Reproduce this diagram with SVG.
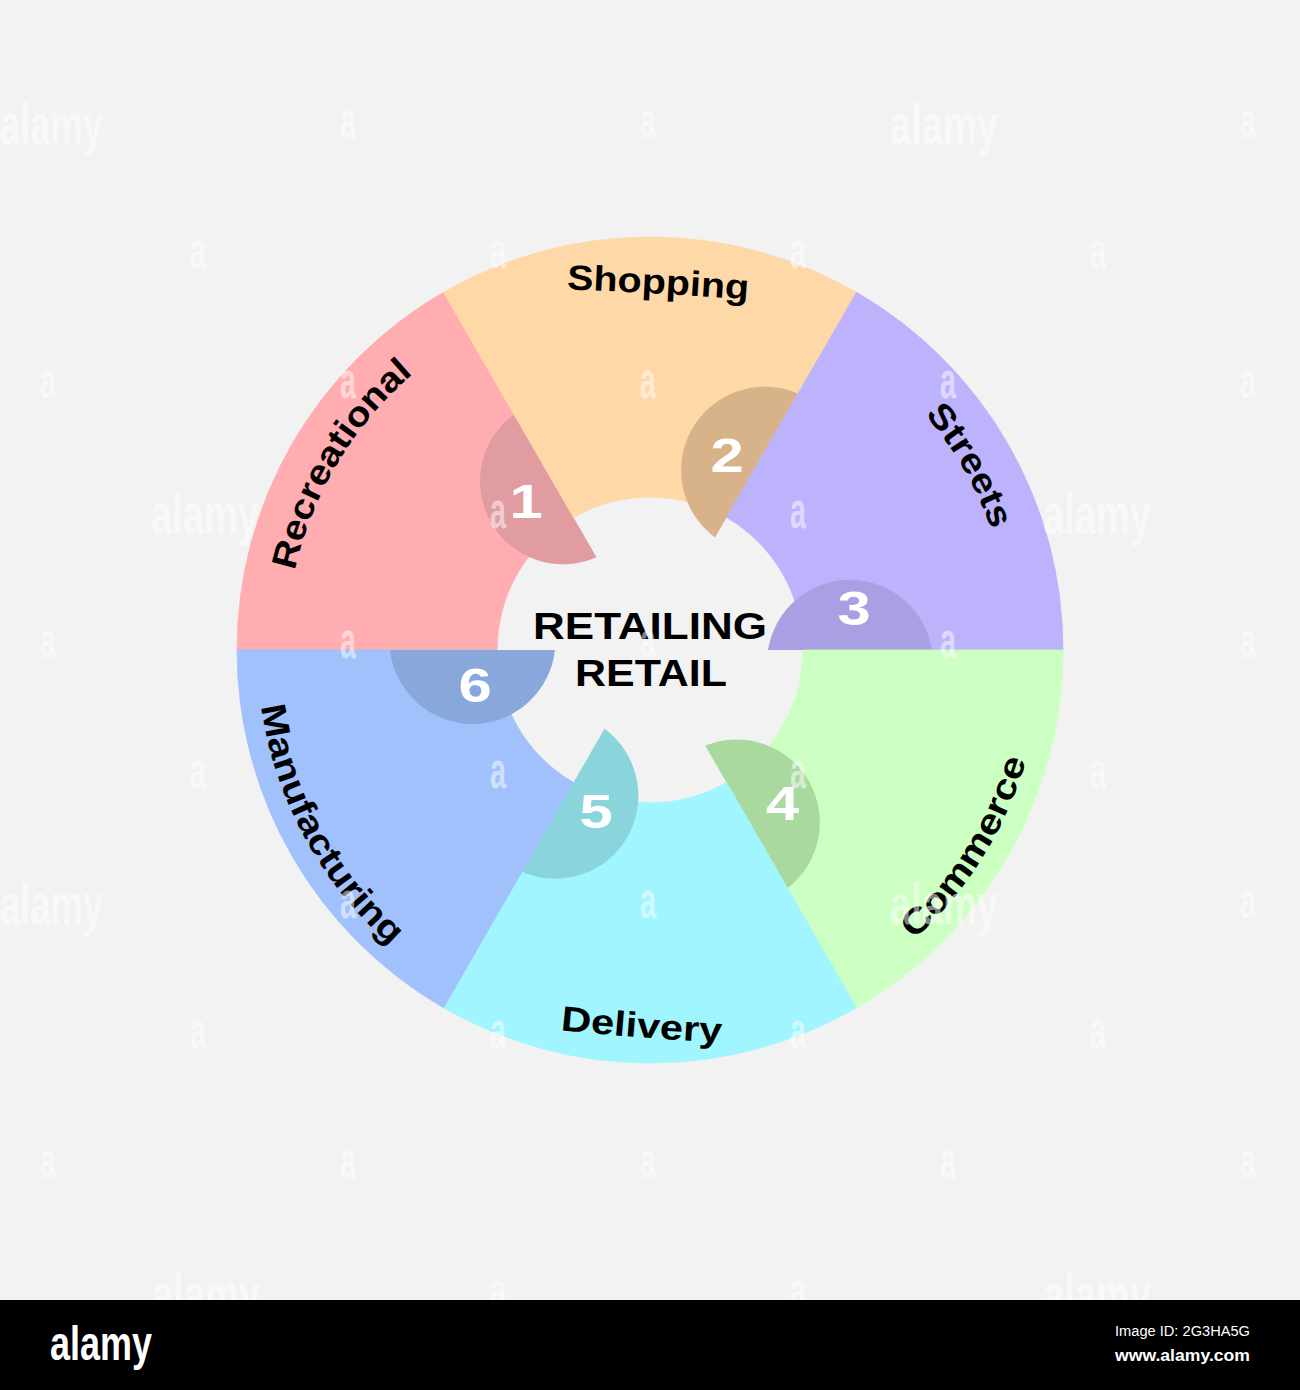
<svg xmlns="http://www.w3.org/2000/svg" width="1300" height="1390" viewBox="0 0 1300 1390">
<defs>
<style>
.lbl{font-family:"Liberation Sans",Arial,sans-serif;font-weight:bold;font-size:35px;fill:#000}
.num{font-family:"Liberation Sans",Arial,sans-serif;font-weight:bold;font-size:49px;fill:#fff;text-anchor:middle}
.ctr{font-family:"Liberation Sans",Arial,sans-serif;font-weight:bold;font-size:36px;fill:#000}
.wm{font-family:"Liberation Sans Narrow","Liberation Sans",Arial,sans-serif;font-weight:bold;fill:#fff;opacity:.5}
.wa{font-size:52px}
.ww{font-size:58px}
.ft{font-family:"Liberation Sans Narrow","Liberation Sans",Arial,sans-serif;fill:#fff}
</style>
<path id="pShop" d="M 555 288.7 Q 657.5 292.6 760 300.4"/>
<path id="pRec" d="M 286.9 675.4 A 364 364 0 0 1 501.9 317.5"/>
<path id="pStr" d="M 803.0 321.9 A 362 362 0 0 1 1010.6 681.6"/>
<path id="pCom" d="M 803.2 1010.8 A 392 392 0 0 0 1041.5 629.5"/>
<path id="pDel" d="M 545 1028.5 Q 641 1039 737 1043"/>
<path id="pMan" d="M 259.5 605.5 A 393 393 0 0 0 474.6 1001.7"/>
</defs>
<rect x="0" y="0" width="1300" height="1390" fill="#f2f2f2"/>

<g id="node-recreational">
<path d="M 443.5 292.33 A 413 413 0 0 0 237 650 L 497 650 A 153 153 0 0 1 573.5 517.5 Z" fill="#ffadb0" stroke="#ffadb0" stroke-width="0.8"/>
<path d="M 596.5 557.3 A 83 83 0 0 1 514 414.4 Z" fill="#e09ca0"/>
<text class="num" transform="translate(526 518) scale(1.22 1)">1</text>
<text class="lbl"><textPath href="#pRec" startOffset="50%" text-anchor="middle" textLength="234" lengthAdjust="spacingAndGlyphs">Recreational</textPath></text>
</g>

<g id="node-shopping">
<path d="M 856.5 292.33 A 413 413 0 0 0 443.5 292.33 L 573.5 517.5 A 153 153 0 0 1 726.5 517.5 Z" fill="#ffd8a7" stroke="#ffd8a7" stroke-width="0.8"/>
<path d="M 715 537.4 A 83.5 83.5 0 0 1 798 393.7 Z" fill="#d8b389"/>
<text class="num" transform="translate(727 471.7) scale(1.22 1)">2</text>
<text class="lbl"><textPath href="#pShop" startOffset="50%" text-anchor="middle" textLength="182" lengthAdjust="spacingAndGlyphs">Shopping</textPath></text>
</g>

<g id="node-streets">
<path d="M 1063 650 A 413 413 0 0 0 856.5 292.33 L 726.5 517.5 A 153 153 0 0 1 803 650 Z" fill="#bdb3fd" stroke="#bdb3fd" stroke-width="0.8"/>
<path d="M 768 650 A 83 83 0 0 1 932 650 Z" fill="#a9a0e3"/>
<text class="num" transform="translate(854 625) scale(1.22 1)">3</text>
<text class="lbl"><textPath href="#pStr" startOffset="50%" text-anchor="middle" textLength="134" lengthAdjust="spacingAndGlyphs">Streets</textPath></text>
</g>

<g id="node-commerce">
<path d="M 856.5 1007.67 A 413 413 0 0 0 1063 650 L 803 650 A 153 153 0 0 1 726.5 782.5 Z" fill="#ccffc2" stroke="#ccffc2" stroke-width="0.8"/>
<path d="M 705.25 745.7 A 83 83 0 0 1 787.5 888.2 Z" fill="#aad9a0"/>
<text class="num" transform="translate(782.5 820) scale(1.22 1)">4</text>
<text class="lbl"><textPath href="#pCom" startOffset="50%" text-anchor="middle" textLength="214" lengthAdjust="spacingAndGlyphs">Commerce</textPath></text>
</g>

<g id="node-delivery">
<path d="M 443.5 1007.67 A 413 413 0 0 0 856.5 1007.67 L 726.5 782.5 A 153 153 0 0 1 573.5 782.5 Z" fill="#a0f5fe" stroke="#a0f5fe" stroke-width="0.8"/>
<path d="M 604.5 728.8 A 83 83 0 0 1 522 871.7 Z" fill="#89d5db"/>
<text class="num" transform="translate(596 828) scale(1.22 1)">5</text>
<text class="lbl"><textPath href="#pDel" startOffset="50%" text-anchor="middle" textLength="162" lengthAdjust="spacingAndGlyphs">Delivery</textPath></text>
</g>

<g id="node-manufacturing">
<path d="M 237 650 A 413 413 0 0 0 443.5 1007.67 L 573.5 782.5 A 153 153 0 0 1 497 650 Z" fill="#a0c1fc" stroke="#a0c1fc" stroke-width="0.8"/>
<path d="M 555 650 A 83 83 0 0 1 390 650 Z" fill="#88a8dc"/>
<text class="num" transform="translate(475 701.7) scale(1.22 1)">6</text>
<text class="lbl"><textPath href="#pMan" startOffset="50%" text-anchor="middle" textLength="278" lengthAdjust="spacingAndGlyphs">Manufacturing</textPath></text>
</g>

<g id="node-center">
<text class="ctr" x="533" y="639" textLength="234" lengthAdjust="spacingAndGlyphs">RETAILING</text>
<text class="ctr" x="575" y="686" textLength="152" lengthAdjust="spacingAndGlyphs">RETAIL</text>
</g>

<g id="connectors"></g>

<g id="watermarks" class="wm">
<g class="ww">
<text x="0" y="144" textLength="103" lengthAdjust="spacingAndGlyphs">alamy</text>
<text x="890" y="144" textLength="108" lengthAdjust="spacingAndGlyphs">alamy</text>
<text x="151" y="534" textLength="108" lengthAdjust="spacingAndGlyphs">alamy</text>
<text x="1043" y="534" textLength="108" lengthAdjust="spacingAndGlyphs">alamy</text>
<text x="0" y="924" textLength="103" lengthAdjust="spacingAndGlyphs">alamy</text>
<text x="890" y="924" textLength="108" lengthAdjust="spacingAndGlyphs">alamy</text>
<text x="152" y="1314" textLength="108" lengthAdjust="spacingAndGlyphs">alamy</text>
<text x="1043" y="1314" textLength="108" lengthAdjust="spacingAndGlyphs">alamy</text>
</g>
<g class="wa">
<text x="340" y="138" textLength="16" lengthAdjust="spacingAndGlyphs">a</text>
<text x="640" y="138" textLength="16" lengthAdjust="spacingAndGlyphs">a</text>
<text x="1240" y="138" textLength="16" lengthAdjust="spacingAndGlyphs">a</text>
<text x="190" y="268" textLength="16" lengthAdjust="spacingAndGlyphs">a</text>
<text x="490" y="268" textLength="16" lengthAdjust="spacingAndGlyphs">a</text>
<text x="790" y="268" textLength="16" lengthAdjust="spacingAndGlyphs">a</text>
<text x="1090" y="268" textLength="16" lengthAdjust="spacingAndGlyphs">a</text>
<text x="40" y="398" textLength="16" lengthAdjust="spacingAndGlyphs">a</text>
<text x="340" y="398" textLength="16" lengthAdjust="spacingAndGlyphs">a</text>
<text x="640" y="398" textLength="16" lengthAdjust="spacingAndGlyphs">a</text>
<text x="940" y="398" textLength="16" lengthAdjust="spacingAndGlyphs">a</text>
<text x="1240" y="398" textLength="16" lengthAdjust="spacingAndGlyphs">a</text>
<text x="490" y="528" textLength="16" lengthAdjust="spacingAndGlyphs">a</text>
<text x="790" y="528" textLength="16" lengthAdjust="spacingAndGlyphs">a</text>
<text x="40" y="658" textLength="16" lengthAdjust="spacingAndGlyphs">a</text>
<text x="340" y="658" textLength="16" lengthAdjust="spacingAndGlyphs">a</text>
<text x="640" y="658" textLength="16" lengthAdjust="spacingAndGlyphs">a</text>
<text x="940" y="658" textLength="16" lengthAdjust="spacingAndGlyphs">a</text>
<text x="1240" y="658" textLength="16" lengthAdjust="spacingAndGlyphs">a</text>
<text x="190" y="788" textLength="16" lengthAdjust="spacingAndGlyphs">a</text>
<text x="490" y="788" textLength="16" lengthAdjust="spacingAndGlyphs">a</text>
<text x="790" y="788" textLength="16" lengthAdjust="spacingAndGlyphs">a</text>
<text x="1090" y="788" textLength="16" lengthAdjust="spacingAndGlyphs">a</text>
<text x="340" y="918" textLength="16" lengthAdjust="spacingAndGlyphs">a</text>
<text x="640" y="918" textLength="16" lengthAdjust="spacingAndGlyphs">a</text>
<text x="1240" y="918" textLength="16" lengthAdjust="spacingAndGlyphs">a</text>
<text x="190" y="1048" textLength="16" lengthAdjust="spacingAndGlyphs">a</text>
<text x="490" y="1048" textLength="16" lengthAdjust="spacingAndGlyphs">a</text>
<text x="790" y="1048" textLength="16" lengthAdjust="spacingAndGlyphs">a</text>
<text x="1090" y="1048" textLength="16" lengthAdjust="spacingAndGlyphs">a</text>
<text x="40" y="1178" textLength="16" lengthAdjust="spacingAndGlyphs">a</text>
<text x="340" y="1178" textLength="16" lengthAdjust="spacingAndGlyphs">a</text>
<text x="640" y="1178" textLength="16" lengthAdjust="spacingAndGlyphs">a</text>
<text x="940" y="1178" textLength="16" lengthAdjust="spacingAndGlyphs">a</text>
<text x="1240" y="1178" textLength="16" lengthAdjust="spacingAndGlyphs">a</text>
<text x="490" y="1308" textLength="16" lengthAdjust="spacingAndGlyphs">a</text>
<text x="790" y="1308" textLength="16" lengthAdjust="spacingAndGlyphs">a</text>
</g>
</g>

<g id="footer">
<rect x="0" y="1300" width="1300" height="90" fill="#000"/>
<text class="ft" x="50" y="1360" font-size="48" font-weight="bold" textLength="102" lengthAdjust="spacingAndGlyphs">alamy</text>
<text class="ft" x="1115" y="1336" font-size="14" textLength="135" lengthAdjust="spacingAndGlyphs">Image ID: 2G3HA5G</text>
<text class="ft" x="1115" y="1361" font-size="16" font-weight="bold" textLength="135" lengthAdjust="spacingAndGlyphs">www.alamy.com</text>
</g>
</svg>
